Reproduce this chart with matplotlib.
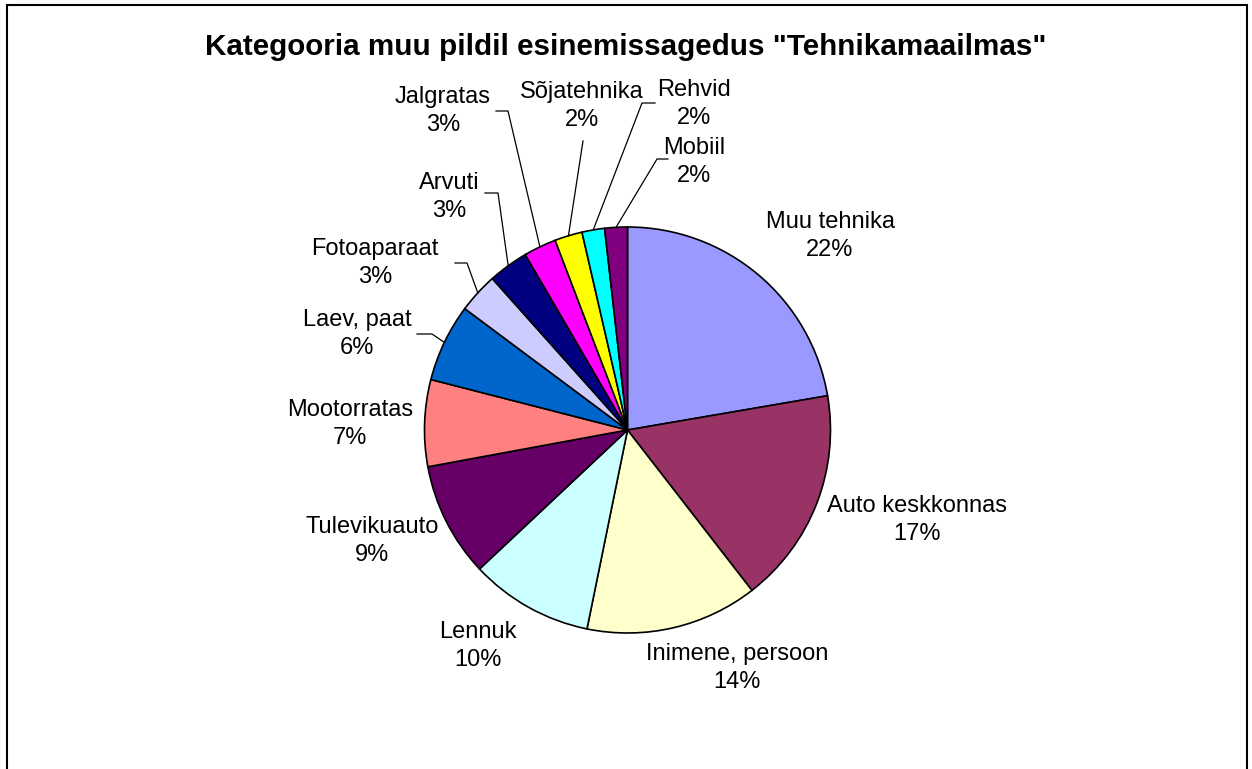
import numpy as np
import matplotlib
matplotlib.use("Agg")
import matplotlib.pyplot as plt
from matplotlib.patches import Rectangle

plt.rcParams['font.family'] = ['Liberation Sans', 'DejaVu Sans']

# slice data (share of pictures, %)
categories = ["Muu tehnika", "Auto keskkonnas", "Inimene, persoon", "Lennuk",
              "Tulevikuauto", "Mootorratas", "Laev, paat", "Fotoaparaat",
              "Arvuti", "Jalgratas", "Sõjatehnika", "Rehvid", "Mobiil"]
values = [22.3, 17.2, 13.7, 9.8, 9.1, 6.9, 6.2, 3.2, 3.2, 2.6, 2.2, 1.8, 1.8]
colors = ["#9999FF", "#993366", "#FFFFCC", "#CCFFFF", "#660066", "#FF8080",
          "#0066CC", "#CCCCFF", "#000080", "#FF00FF", "#FFFF00", "#00FFFF",
          "#800080"]

W, H = 1252, 769
# label block centres in pixels (x, y from top)
label_pos = [(830, 236), (917, 520), (737, 668), (478, 646), (372, 541),
             (350, 424), (357, 334), (375, 263), (449, 197), (443, 111),
             (582, 106), (694, 104), (694, 162)]
# leader lines: start point, elbow point (pixels)
leaders = {7: [(455, 263), (467, 263)], 6: [(417, 334), (432, 334)],
           8: [(485, 193), (498, 193)], 9: [(496, 111), (508, 111)],
           10: [(583, 141)], 11: [(655, 103), (642, 103)],
           12: [(668, 159), (657, 159)]}

fig = plt.figure(figsize=(W / 100, H / 100), dpi=100)
ax = fig.add_axes([0, 0, 1, 1])

cx, cy, r = 627.5, H - 430, 203
wedges, _ = ax.pie(values, colors=colors, startangle=90, counterclock=False,
                   center=(cx, cy), radius=r, frame=True,
                   wedgeprops=dict(edgecolor='black', linewidth=1.2))
ax.set_xlim(0, W)
ax.set_ylim(0, H)
ax.set_aspect('equal')
ax.axis('off')

total = sum(values)
for i, (name, v) in enumerate(zip(categories, values)):
    x, y = label_pos[i]
    ax.text(x, H - y, f"{name}\n{v / total * 100:.0f}%", ha='center', va='center',
            fontsize=17, linespacing=1.33)
    if i in leaders:
        w = wedges[i]
        mid = np.deg2rad((w.theta1 + w.theta2) / 2)
        pts = leaders[i] + [(cx + r * np.cos(mid), H - (cy + r * np.sin(mid)))]
        ax.plot([p[0] for p in pts], [H - p[1] for p in pts], color='black', lw=0.9)

ax.text(626, H - 47, 'Kategooria muu pildil esinemissagedus "Tehnikamaailmas"',
        ha='center', va='center', fontsize=21.3, fontweight='bold')

fig.patches.append(Rectangle((7, -20), 1240, H - 5 + 20, transform=None,
                             fill=False, edgecolor='black', linewidth=1.5))

fig.savefig("out.png", dpi=100)
